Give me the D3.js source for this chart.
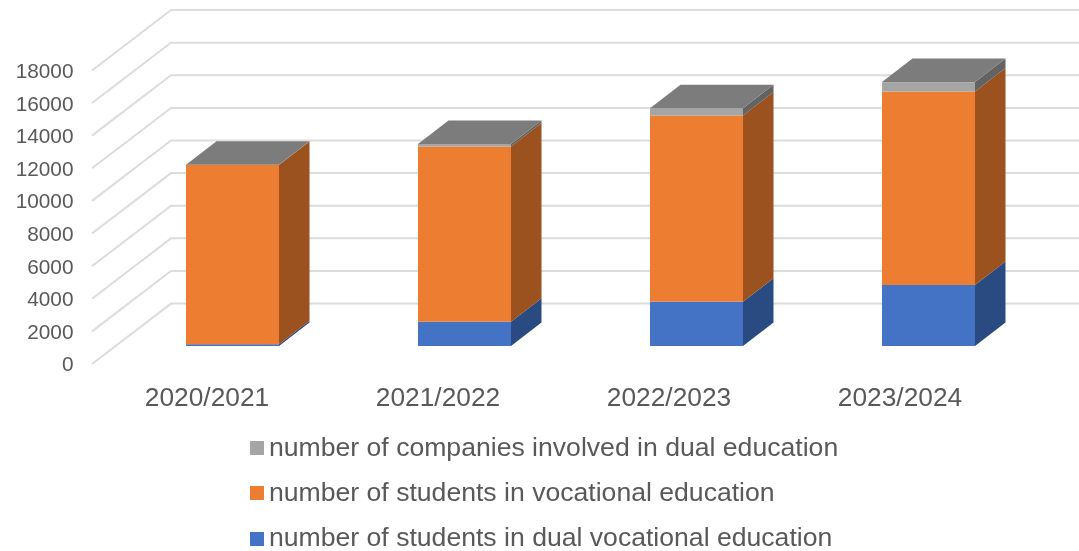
<!DOCTYPE html>
<html><head><meta charset="utf-8">
<script src="https://cdn.jsdelivr.net/npm/d3@7"></script>
<style>html,body{margin:0;padding:0;background:#fff}svg{display:block;filter:blur(0.45px)}text{font-family:"Liberation Sans",Arial,sans-serif;fill:#595959}</style>
</head><body><svg id="c" width="1079" height="551"></svg>
<script>
const categories = ["2020/2021","2021/2022","2022/2023","2023/2024"];
const dualStudents = [110,1490,2720,3740];
const vocationalStudents = [10990,10740,11410,11860];
const companies = [20,160,450,580];
const yTicks = [0,2000,4000,6000,8000,10000,12000,14000,16000,18000];
const seriesNames = ["number of companies involved in dual education","number of students in vocational education","number of students in dual vocational education"];
const seriesColors = {front:["#a5a5a5","#ed7d31","#4472c4"],side:["#636363","#9b521e","#2a4a82"],top:"#7c7c7c"};

const svg = d3.select("#c");
const H = 32.62/2000;
const yFront = d3.scaleLinear().domain([0,18000]).range([364,364-18000*H]);
const yBar = d3.scaleLinear().domain([0,18000]).range([346,346-18000*H]);
const yBack = d3.scaleLinear().domain([0,18000]).range([303.6,303.6-18000*H]);
const x = d3.scaleBand().domain(categories).range([116.5,1044.5]);
const xLabel = d3.scalePoint().domain(categories).range([207,900]);
const barW = 93, depthX = 30.5, depthY = 23.5;
const barX = c => x(c)+x.bandwidth()/2-barW/2;

// gridlines on floor and back wall
const grid = svg.append("g").attr("fill","none").attr("stroke","#dcdcdc").attr("stroke-width",2);
yTicks.forEach(t=>{
  grid.append("path").attr("d",d3.line()([[92,yFront(t)],[171,yBack(t)],[1079,yBack(t)]]));
});

// y tick labels
svg.append("g").selectAll("text").data(yTicks).join("text")
  .attr("x",73.5).attr("y",d=>yFront(d)).attr("dy","0.36em").attr("text-anchor","end")
  .attr("font-size",20.8).text(d=>d);

// stacked 3D bars
const stackKeys = [dualStudents,vocationalStudents,companies];
const colorIdx = [2,1,0];
const bars = svg.append("g");
categories.forEach((c,i)=>{
  let base = 0;
  const x0 = barX(c), x1 = x0+barW;
  stackKeys.forEach((arr,k)=>{
    const v = arr[i], y0 = yBar(base), y1 = yBar(base+v), ci = colorIdx[k];
    bars.append("path").attr("fill",seriesColors.side[ci])
      .attr("d",d3.line()([[x1,y0],[x1+depthX,y0-depthY],[x1+depthX,y1-depthY],[x1,y1]])+"Z");
    bars.append("rect").attr("x",x0).attr("y",y1).attr("width",barW).attr("height",y0-y1).attr("fill",seriesColors.front[ci]);
    base += v;
  });
  const yt = yBar(base);
  bars.append("path").attr("fill",seriesColors.top)
    .attr("d",d3.line()([[x0,yt],[x0+depthX,yt-depthY],[x1+depthX,yt-depthY],[x1,yt]])+"Z");
});

// category labels
svg.append("g").selectAll("text").data(categories).join("text")
  .attr("x",d=>xLabel(d)).attr("y",396.5).attr("dy","0.36em").attr("text-anchor","middle")
  .attr("font-size",26.3).text(d=>d);

// legend
const ly = [448,493.5,538];
const lg = svg.append("g");
seriesNames.forEach((n,i)=>{
  lg.append("rect").attr("x",250).attr("y",[441,486,532][i]).attr("width",14).attr("height",14).attr("fill",seriesColors.front[i]);
  lg.append("text").attr("x",269).attr("y",ly[i]).attr("dy","0.3em").attr("font-size",26.6).text(n);
});
</script></body></html>
